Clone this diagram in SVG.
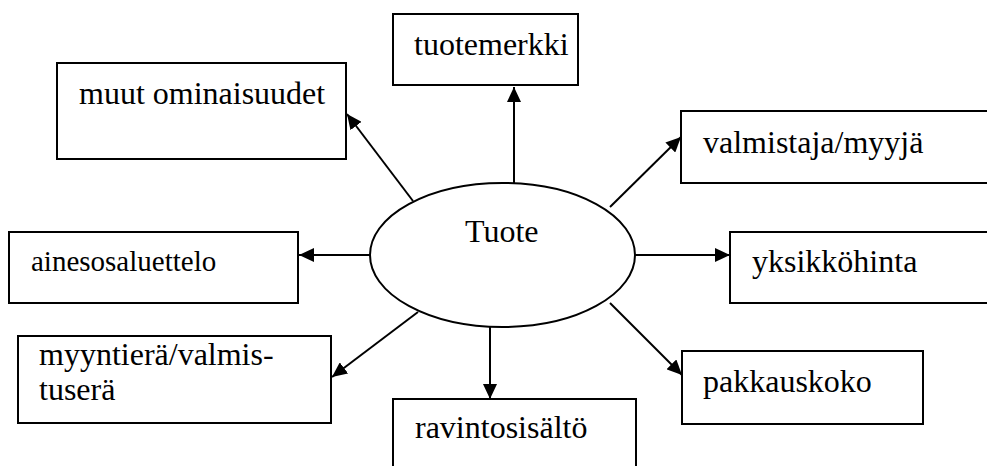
<svg xmlns="http://www.w3.org/2000/svg" width="987" height="466" viewBox="0 0 987 466">
  <style>
    .box { fill: #ffffff; stroke: #000000; stroke-width: 2; }
    .hub { fill: #ffffff; stroke: #000000; stroke-width: 2; }
    .lbl { font-family: 'Liberation Serif', 'Times New Roman', serif; font-size: 32px; fill: #000000; }
    .edge { stroke: #000000; stroke-width: 2; fill: none; marker-end: url(#arrow); }
  </style>
  <defs>
    <marker id="arrow" markerUnits="userSpaceOnUse" markerWidth="16" markerHeight="14" refX="15" refY="7" orient="auto">
      <path d="M0,0 L15,7 L0,14 z" fill="#000000"/>
    </marker>
  </defs>

  <rect width="987" height="466" fill="#ffffff"/>

  <!-- connectors from the hub to each attribute -->
  <g id="connectors">
    <line class="edge" x1="514" y1="183" x2="514" y2="87"/>
    <line class="edge" x1="413" y1="201" x2="347" y2="114"/>
    <line class="edge" x1="610" y1="207" x2="681" y2="137"/>
    <line class="edge" x1="370" y1="255" x2="299" y2="255"/>
    <line class="edge" x1="635" y1="255" x2="730" y2="255"/>
    <line class="edge" x1="418" y1="312" x2="332" y2="377"/>
    <line class="edge" x1="490" y1="327" x2="490" y2="399"/>
    <line class="edge" x1="610" y1="303" x2="682" y2="375"/>
  </g>

  <g id="tuote">
    <ellipse class="hub" cx="502.5" cy="255" rx="132.5" ry="72"/>
    <text class="lbl" x="465" y="242">Tuote</text>
  </g>

  <g id="tuotemerkki">
    <rect class="box" x="393" y="14" width="185" height="71"/>
    <text class="lbl" x="414" y="55">tuotemerkki</text>
  </g>

  <g id="muut-ominaisuudet">
    <rect class="box" x="57" y="63" width="289" height="96"/>
    <text class="lbl" x="79" y="104">muut ominaisuudet</text>
  </g>

  <g id="valmistaja-myyja">
    <rect class="box" x="681" y="111" width="320" height="72"/>
    <text class="lbl" x="703" y="153">valmistaja/myyjä</text>
  </g>

  <g id="ainesosaluettelo">
    <rect class="box" x="9" y="232" width="289" height="71"/>
    <text class="lbl" x="31" y="271" style="font-size:29px">ainesosaluettelo</text>
  </g>

  <g id="yksikkohinta">
    <rect class="box" x="730" y="232" width="270" height="71"/>
    <text class="lbl" x="752" y="272">yksikköhinta</text>
  </g>

  <g id="myyntiera">
    <rect class="box" x="18" y="336" width="313" height="87"/>
    <text class="lbl" x="39" y="365">myyntierä/valmis-</text>
    <text class="lbl" x="39" y="400">tuserä</text>
  </g>

  <g id="ravintosisalto">
    <rect class="box" x="393" y="399" width="243" height="80"/>
    <text class="lbl" x="415" y="438">ravintosisältö</text>
  </g>

  <g id="pakkauskoko">
    <rect class="box" x="682" y="351" width="241" height="73"/>
    <text class="lbl" x="703" y="392">pakkauskoko</text>
  </g>
</svg>
